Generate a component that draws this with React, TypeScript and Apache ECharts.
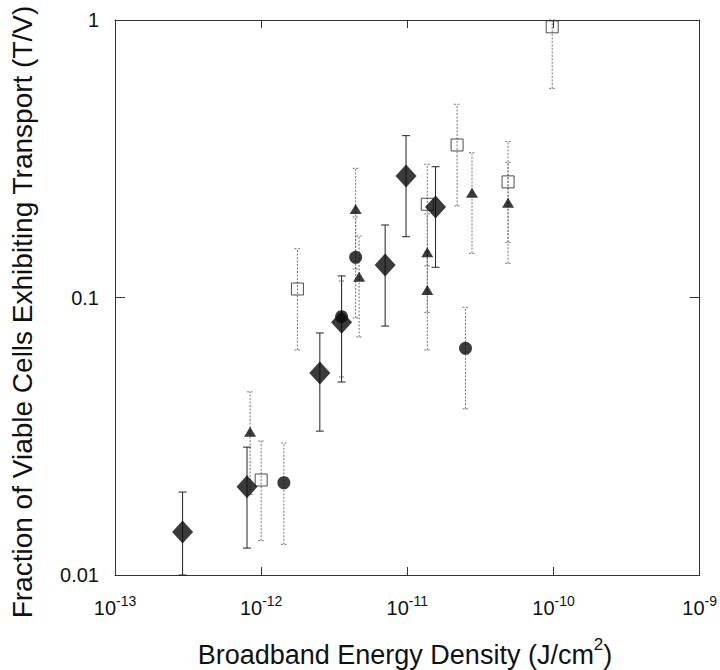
import React, { useEffect, useRef } from 'react';
import * as echarts from 'echarts';

const FONT = '"Liberation Sans", Arial, Helvetica, sans-serif';

// Tick positions / labels
const xTickExponents = [-13, -12, -11, -10, -9];
const yTickValues = [0.01, 0.1, 1];
const yTickLabels = ['0.01', '0.1', '1'];

// Diamonds (solid error bars)
const diamondX = [2.9e-13, 8.0e-13, 2.52e-12, 3.55e-12, 7.05e-12, 9.8e-12, 1.56e-11];
const diamondY = [0.0143, 0.0208, 0.0534, 0.0814, 0.131, 0.274, 0.212];
const diamondLo = [0.01, 0.0125, 0.033, 0.0496, 0.0789, 0.1656, 0.1285];
const diamondHi = [0.0199, 0.0289, 0.0745, 0.1196, 0.1825, 0.383, 0.296];

// Open squares (dotted error bars)
const squareX = [1.0e-12, 1.77e-12, 1.37e-11, 2.19e-11, 4.89e-11, 9.8e-11];
const squareY = [0.022, 0.1073, 0.2168, 0.3545, 0.261, 0.945];
const squareLo = [0.0133, 0.0647, 0.13, 0.2137, 0.158, 0.567];
const squareHi = [0.0304, 0.15, 0.302, 0.497, 0.365, 1];

// Filled triangles (dotted error bars)
const triX = [8.4e-13, 4.43e-12, 4.68e-12, 1.37e-11, 1.37e-11, 2.77e-11, 4.89e-11];
const triY = [0.0328, 0.2085, 0.1189, 0.1455, 0.1064, 0.2386, 0.2197];
const triLo = [0.0195, 0.1267, 0.0721, 0.0884, 0.0647, 0.1443, 0.1328];
const triHi = [0.0457, 0.292, 0.1666, 0.2, 0.146, 0.3325, 0.307];

// Filled circles (dotted error bars)
const circX = [1.43e-12, 3.55e-12, 4.43e-12, 2.5e-11];
const circY = [0.0215, 0.0853, 0.1396, 0.0656];
const circLo = [0.0129, 0.0517, 0.0844, 0.0397];
const circHi = [0.0299, 0.1147, 0.195, 0.0922];

const pts = (xs: number[], ys: number[]) => xs.map((x, i) => [x, ys[i]]);
const errs = (xs: number[], lo: number[], hi: number[]) => xs.map((x, i) => [x, lo[i], hi[i]]);

function errRender(dashed: boolean, color: string, capW: number) {
  return (params: any, api: any) => {
    const x = api.value(0);
    const lo = api.value(1);
    const hi = api.value(2);
    const p1 = api.coord([x, lo]);
    const p2 = api.coord([x, hi]);
    const style: any = { stroke: color, lineWidth: 1, lineDash: dashed ? [2, 1.5] : null, fill: null };
    return {
      type: 'group',
      children: [
        { type: 'line', shape: { x1: p1[0], y1: p1[1], x2: p2[0], y2: p2[1] }, style },
        { type: 'line', shape: { x1: p1[0] - capW, y1: p1[1], x2: p1[0] + capW, y2: p1[1] }, style },
        { type: 'line', shape: { x1: p2[0] - capW, y1: p2[1], x2: p2[0] + capW, y2: p2[1] }, style },
      ],
    };
  };
}

const errSeries = (data: number[][], dashed: boolean, color: string, capW: number) => ({
  type: 'custom',
  renderItem: errRender(dashed, color, capW),
  data,
  encode: { x: 0, y: [1, 2] },
  z: 1,
  silent: true,
});

const axisLineStyle = { color: '#333', width: 1 };

const xLabelFormatter = (v: number) => `{b|10}{s|${Math.round(Math.log10(v))}}`;
const yLabelFormatter = (v: number) => {
  const e = Math.round(Math.log10(v));
  const idx = yTickValues.findIndex((t) => Math.round(Math.log10(t)) === e);
  return idx >= 0 ? yTickLabels[idx] : '';
};

const option: any = {
  animation: false,
  backgroundColor: '#fff',
  grid: { left: 115, top: 20, width: 585, height: 555, containLabel: false },
  xAxis: [
    {
      type: 'log',
      logBase: 10,
      min: Math.pow(10, xTickExponents[0]),
      max: Math.pow(10, xTickExponents[xTickExponents.length - 1]),
      position: 'bottom',
      axisLine: { show: true, lineStyle: axisLineStyle },
      axisTick: { show: true, inside: true, length: 8, lineStyle: axisLineStyle },
      minorTick: { show: false },
      splitLine: { show: false },
      axisLabel: {
        margin: 19,
        formatter: xLabelFormatter,
        rich: {
          b: { fontSize: 20, fontFamily: FONT, color: '#111', lineHeight: 24, verticalAlign: 'bottom' },
          s: { fontSize: 14, fontFamily: FONT, color: '#111', lineHeight: 14, verticalAlign: 'top' },
        },
      },
    },
    {
      type: 'log',
      logBase: 10,
      min: Math.pow(10, xTickExponents[0]),
      max: Math.pow(10, xTickExponents[xTickExponents.length - 1]),
      position: 'top',
      axisLine: { show: true, lineStyle: axisLineStyle },
      axisTick: { show: true, inside: true, length: 8, lineStyle: axisLineStyle },
      splitLine: { show: false },
      axisLabel: { show: false },
    },
  ],
  yAxis: [
    {
      type: 'log',
      logBase: 10,
      min: yTickValues[0],
      max: yTickValues[yTickValues.length - 1],
      position: 'left',
      axisLine: { show: true, lineStyle: axisLineStyle },
      axisTick: { show: true, inside: true, length: 10, lineStyle: axisLineStyle },
      splitLine: { show: false },
      axisLabel: { margin: 16, fontSize: 20, fontFamily: FONT, color: '#111', formatter: yLabelFormatter },
    },
    {
      type: 'log',
      logBase: 10,
      min: yTickValues[0],
      max: yTickValues[yTickValues.length - 1],
      position: 'right',
      axisLine: { show: true, lineStyle: axisLineStyle },
      axisTick: { show: true, inside: true, length: 10, lineStyle: axisLineStyle },
      splitLine: { show: false },
      axisLabel: { show: false },
    },
  ],
  graphic: [
    {
      type: 'text',
      x: 22,
      y: 312,
      rotation: Math.PI / 2,
      style: {
        text: 'Fraction of Viable Cells Exhibiting Transport (T/V)',
        fontSize: 28,
        fontFamily: FONT,
        fill: '#111',
        textAlign: 'center',
        textVerticalAlign: 'middle',
      },
    },
    {
      type: 'text',
      x: 405,
      y: 652,
      style: {
        text: '{a|Broadband Energy Density (J/cm}{s|2}{a|)}',
        textAlign: 'center',
        textVerticalAlign: 'middle',
        rich: {
          a: { fontSize: 27, fontFamily: FONT, fill: '#111', lineHeight: 32, verticalAlign: 'bottom' },
          s: { fontSize: 17, fontFamily: FONT, fill: '#111', lineHeight: 17, verticalAlign: 'top' },
        },
      },
    },
  ],
  series: [
    errSeries(errs(squareX, squareLo, squareHi), true, '#777', 3),
    errSeries(errs(triX, triLo, triHi), true, '#777', 3),
    errSeries(errs(circX, circLo, circHi), true, '#777', 3),
    errSeries(errs(diamondX, diamondLo, diamondHi), false, '#222', 4),
    {
      type: 'scatter',
      data: pts(squareX, squareY),
      symbol: 'rect',
      symbolSize: 12,
      itemStyle: { color: 'rgba(255,255,255,0)', borderColor: '#222', borderWidth: 1 },
      z: 3,
      silent: true,
    },
    {
      type: 'scatter',
      data: pts(circX, circY),
      symbol: 'circle',
      symbolSize: 13,
      itemStyle: { color: '#0a0a0a' },
      z: 4,
      silent: true,
    },
    {
      type: 'scatter',
      data: pts(triX, triY),
      symbol: 'triangle',
      symbolSize: [12, 10],
      itemStyle: { color: '#0a0a0a' },
      z: 4,
      silent: true,
    },
    {
      type: 'scatter',
      data: pts(diamondX, diamondY),
      symbol: 'diamond',
      symbolSize: [21, 23],
      itemStyle: { color: '#0a0a0a' },
      z: 5,
      silent: true,
    },
  ],
};

export default function App() {
  const ref = useRef<HTMLDivElement>(null);
  useEffect(() => {
    const chart = echarts.init(ref.current as HTMLDivElement, null, { renderer: 'svg' });
    chart.setOption(option);
    return () => chart.dispose();
  }, []);
  return (
    <div
      ref={ref}
      style={{ position: 'fixed', left: 0, top: 0, width: 720, height: 670, background: '#fff' }}
    />
  );
}
